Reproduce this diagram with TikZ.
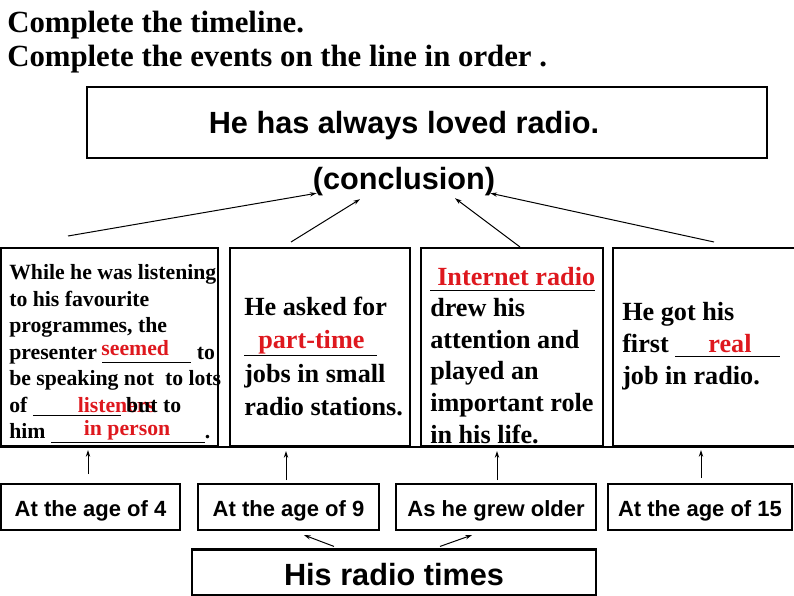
\documentclass[tikz,border=0pt]{standalone}
\usepackage{fontspec}
\setmainfont{Liberation Serif}
\setsansfont{Liberation Sans}
\usepackage{xcolor}
\usetikzlibrary{arrows.meta}
\definecolor{answer}{RGB}{222,24,30}
\newdimen\px \px=0.75pt
% blank line with the red answer written over it
\newcommand{\gap}[4][5]{\rlap{\hspace{#3\px}\textcolor{answer}{#4}}\rule[-#1\px]{#2\px}{1.3\px}}
\newcommand{\storyfont}[2]{\bfseries\fontsize{#1}{#2}\selectfont}

\tikzset{
	box/.style={draw, line width=1.6pt, inner sep=0pt},
	dims/.style n args={2}{minimum width=#1*0.75pt, minimum height=#2*0.75pt},
	tag/.style={box, font=\sffamily\bfseries\fontsize{16.5pt}{19pt}\selectfont, text height=14.5pt, text depth=1pt},
	big/.style={font=\sffamily\bfseries\fontsize{23pt}{27pt}\selectfont},
	story/.style={anchor=north west, align=left, inner sep=0pt},
	link/.style={line width=0.75pt, -{Stealth[length=5pt,width=3.2pt]}}
}

\begin{document}
\begin{tikzpicture}[x=0.75pt,y=-0.75pt]
	\useasboundingbox (0,0) rectangle (794,596);

	\node[story, font=\storyfont{23.1pt}{25.7pt}] (title) at (7,10.8) {Complete the timeline.\\Complete the events on the line in order .};

	\node[box, dims={680}{71}] (head) at (427,122.5) {};
	\node[big, anchor=base] (headtxt) at (404,133) {He has always loved radio.};
	\node[big, anchor=base, inner sep=0pt] (concl) at (404,189) {(conclusion)};

	% the four events
	\node[box, dims={217}{198}] (ev1) at (109.5,347) {};
	\node[box, dims={180}{198}] (ev2) at (320,347) {};
	\node[box, dims={182}{198}] (ev3) at (512,347) {};
	\node[box, dims={185}{198}] (ev4) at (705.5,347) {};
	\node[story, font=\storyfont{16.3pt}{19.9pt}] (ev1txt) at (9,264.3) {While he was listening\\to his favourite\\programmes, the\\presenter \gap[4]{89}{-1}{\raisebox{4\px}{seemed}} to\\be speaking not~ to lots\\of \gap[4]{88}{45}{listeners} but to\\him \gap[4]{154}{33}{\raisebox{3\px}{in person}}.};
	\node[story, font=\storyfont{19.65pt}{25pt}] (ev2txt) at (244,296.9) {He asked for\\\gap[7.5]{133}{14}{part-time}\\jobs in small\\radio stations.};
	\node[story, font=\storyfont{19.65pt}{23.7pt}] (ev3txt) at (430,266.6) {\gap[6]{165}{7}{Internet radio}\\drew his\\attention and\\played an\\important role\\in his life.};
	\node[story, font=\storyfont{19.65pt}{23.8pt}] (ev4txt) at (622,302.3) {He got his\\first \gap[5]{105}{33}{real}\\job in radio.};

	% timeline
	\coordinate (tl) at (0,447);
	\coordinate (tr) at (794,447);
	\draw[line width=2.2pt] (tl) -- (tr);

	\node[tag, dims={179}{46}] (age4) at (90.5,507) {At the age of 4};
	\node[tag, dims={181}{46}] (age9) at (288.5,507) {At the age of 9};
	\node[tag, dims={200}{46}] (older) at (496,507) {As he grew older};
	\node[tag, dims={184}{46}] (age15) at (700,507) {At the age of 15};
	\node[box, big, dims={404}{46}, text height=20pt, text depth=1.2pt] (times) at (394,572.5) {His radio times};

	% arrows up to the conclusion
	\coordinate (u1) at (68,236);
	\coordinate (u2) at (291,242);
	\coordinate (u3) at (520,247);
	\coordinate (u4) at (714,242);
	\draw[link] (u1) -- ([shift={(4,-2.4)}]concl.south west);
	\draw[link] (u2) -- ([shift={(-44,3.6)}]concl.south);
	\draw[link] (u3) -- ([shift={(51,2.6)}]concl.south);
	\draw[link] (u4) -- ([shift={(-5,-2.4)}]concl.south east);

	% arrows up to the timeline
	\coordinate (p1) at (88,474);
	\coordinate (p2) at (286,480);
	\coordinate (p3) at (497,480);
	\coordinate (p4) at (701,478);
	\coordinate (q1) at (88,450);
	\coordinate (q2) at (286,451);
	\coordinate (q3) at (497,451);
	\coordinate (q4) at (701,450);
	\draw[link] (p1) -- (q1);
	\draw[link] (p2) -- (q2);
	\draw[link] (p3) -- (q3);
	\draw[link] (p4) -- (q4);

	% arrows from the heading
	\draw[link] ([shift={(-60,-2)}]times.north) -- ([shift={(15.5,4)}]age9.south);
	\draw[link] ([shift={(46,-2)}]times.north) -- ([shift={(-24,4)}]older.south);
\end{tikzpicture}
\end{document}
